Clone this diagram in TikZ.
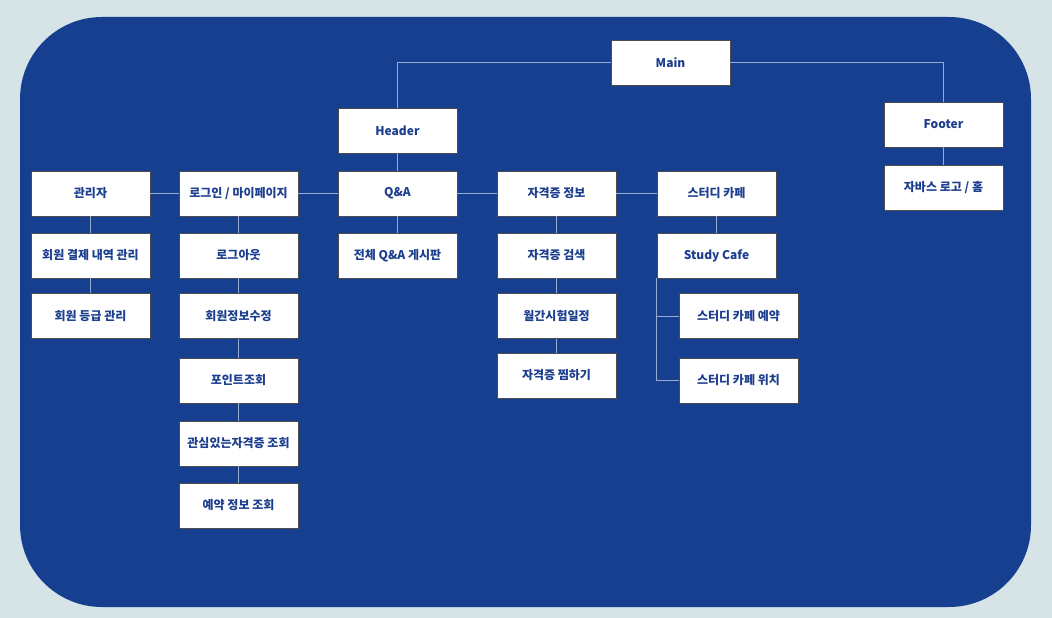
\documentclass[tikz,border=0pt]{standalone}
\usepackage{fontspec}
\setmainfont{Noto Sans CJK KR}
\usetikzlibrary{positioning}
\definecolor{pagebg}{RGB}{214,228,232}
\definecolor{panel}{RGB}{22,63,143}
\definecolor{boxtext}{RGB}{28,62,142}
\definecolor{link}{RGB}{150,172,212}
\begin{document}
\begin{tikzpicture}[x=1pt,y=-1pt,
  menu/.style={draw=black!70,line width=0.8pt,fill=white,minimum width=119pt,minimum height=45pt,inner sep=0pt,font=\fontsize{12pt}{14pt}\selectfont\bfseries,text=boxtext},
  link/.style={draw=link,line width=0.9pt}]
\useasboundingbox (0,0) rectangle (1052,618);
\fill[pagebg] (0,0) rectangle (1052,618);
\fill[panel,rounded corners=82pt] (20,17) rectangle (1031,607);
% top level
\node[menu] (main) at (670.5,62.5) {Main};
\node[menu] (header) at (397.5,130.5) {Header};
\node[menu] (footer) at (943.5,124.5) {Footer};
\node[menu] (logo) at (943.5,187.5) {자바스 로고 / 홈};
% header row
\node[menu] (admin) at (90.5,193.5) {관리자};
\node[menu] (login) at (238.5,193.5) {로그인 / 마이페이지};
\node[menu] (qna) at (397.5,193.5) {Q\&A};
\node[menu] (cert) at (556.5,193.5) {자격증 정보};
\node[menu] (cafe) at (716.5,193.5) {스터디 카페};
% admin column
\node[menu] (payment) at (90.5,255.5) {회원 결제 내역 관리};
\node[menu] (grade) at (90.5,316) {회원 등급 관리};
% mypage column
\node[menu] (logout) at (238.5,255.5) {로그아웃};
\node[menu] (edit) at (238.5,316) {회원정보수정};
\node[menu] (points) at (238.5,380.5) {포인트조회};
\node[menu] (interest) at (238.5,443.5) {관심있는자격증 조회};
\node[menu] (booking) at (238.5,505.5) {예약 정보 조회};
% qna column
\node[menu] (board) at (397.5,255.5) {전체 Q\&A 게시판};
% cert column
\node[menu] (search) at (556.5,255.5) {자격증 검색};
\node[menu] (schedule) at (556.5,316) {월간시험일정};
\node[menu] (wish) at (556.5,375.5) {자격증 찜하기};
% cafe column
\node[menu] (study) at (716.5,255.5) {Study Cafe};
\node[menu] (reserve) at (738.5,316) {스터디 카페 예약};
\node[menu] (place) at (738.5,380.5) {스터디 카페 위치};
% connectors
\draw[link] (main) -| (header);
\draw[link] (main) -| (footer);
\draw[link] (header) -- (qna);
\draw[link] (footer) -- (logo);
\draw[link] (admin) -- (login);
\draw[link] (login) -- (qna);
\draw[link] (qna) -- (cert);
\draw[link] (cert) -- (cafe);
\draw[link] (admin) -- (payment);
\draw[link] (payment) -- (grade);
\draw[link] (login) -- (logout);
\draw[link] (logout) -- (edit);
\draw[link] (edit) -- (points);
\draw[link] (points) -- (interest);
\draw[link] (interest) -- (booking);
\draw[link] (qna) -- (board);
\draw[link] (cert) -- (search);
\draw[link] (search) -- (schedule);
\draw[link] (schedule) -- (wish);
\draw[link] (cafe) -- (study);
\draw[link] (study.south west) |- (reserve.west);
\draw[link] (study.south west) |- (place.west);
\end{tikzpicture}
\end{document}
